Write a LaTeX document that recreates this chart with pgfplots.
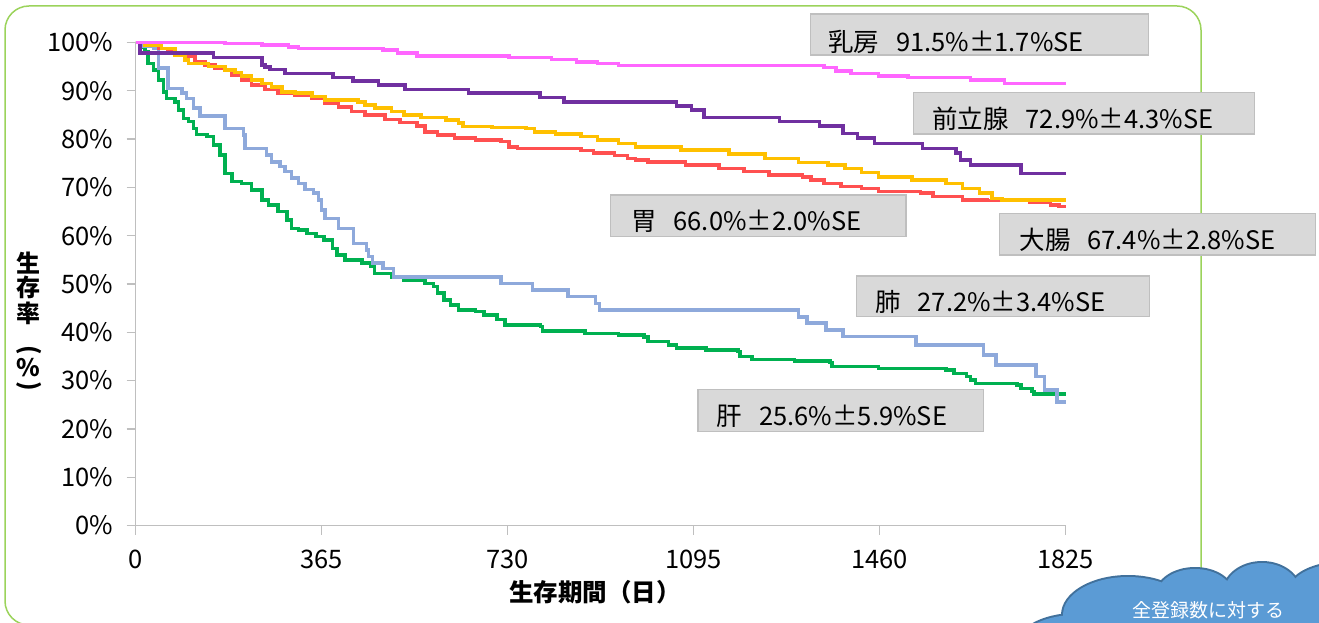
\documentclass[border=0pt]{standalone}
\usepackage{fontspec}
\setmainfont{Noto Sans CJK JP}
\usepackage{pgfplots}
\pgfplotsset{compat=1.18}

\definecolor{pinkc}{HTML}{FF66FF}
\definecolor{purplec}{HTML}{7030A0}
\definecolor{orangec}{HTML}{FFC000}
\definecolor{redc}{HTML}{FF5050}
\definecolor{greenc}{HTML}{00B050}
\definecolor{bluec}{HTML}{8EA9DB}
\definecolor{axisgray}{HTML}{BFBFBF}
\definecolor{boxfill}{HTML}{D9D9D9}
\definecolor{boxdraw}{HTML}{BFBFBF}
\definecolor{bordergreen}{HTML}{9BD35B}
\definecolor{cloudfill}{HTML}{5B9BD5}
\definecolor{cloudedge}{HTML}{41719C}

\newcommand{\lblfont}{\fontsize{25.5}{28}\selectfont}

\begin{document}
\begin{tikzpicture}[x=1pt,y=1pt]
% outer frame
\draw[bordergreen, line width=1.5pt, rounded corners=24pt] (5,-3) rectangle (1201,616);

\begin{axis}[
  at={(135.5pt,96.5pt)}, anchor=south west,
  scale only axis, width=930pt, height=483pt,
  xmin=0, xmax=1825, ymin=0, ymax=100,
  axis x line*=bottom, axis y line*=left,
  axis line style={draw=axisgray, line width=1.5pt},
  xtick={0,365,730,1095,1460,1825},
  ytick={0,10,...,100},
  yticklabel={\pgfmathprintnumber{\tick}\%},
  tick align=outside, major tick length=9pt,
  tick style={draw=axisgray, line width=1.2pt},
  /pgf/number format/assume math mode=true,
  /pgf/number format/1000 sep={},
  tick label style={font=\lblfont},
  yticklabel style={anchor=east, xshift=-10pt},
  xticklabel style={anchor=north, yshift=-12pt},
  clip=false,
  every axis plot/.append style={const plot, line width=3.5pt, line join=miter},
]
% 肺
\addplot[greenc] coordinates {
(0,100)(10,99.0)(19,98.1)(25,95.7)(35,94.3)(45,92.2)(55,89.8)(61,88.4)(78,87.7)
(84,86.0)(94,84.3)(104,83.6)(114,82.2)(120,81.0)(140,80.5)(153,78.8)(166,76.7)
(176,72.9)(189,71.2)(208,70.8)(228,69.5)(248,67.4)(261,66.4)(280,65.0)(297,63.3)
(306,61.5)(320,61.2)(337,60.5)(354,59.8)(370,59.1)(387,57.4)(395,56.0)(411,55.0)
(444,54.3)(461,53.6)(469,52.2)(502,51.5)(527,50.8)(568,50.1)(585,49.5)(593,48.1)
(605,46.7)(618,45.7)(634,44.6)(667,44.3)(684,43.6)(709,42.6)(725,41.5)(795,41.2)
(799,40.3)(882,39.8)(948,39.4)(998,39.0)(1006,38.1)(1046,37.4)(1062,36.7)(1120,36.3)
(1182,36.0)(1186,35.0)(1210,34.4)(1293,34.1)(1363,33.7)(1367,32.9)(1458,32.5)
(1590,32.2)(1606,31.5)(1631,30.8)(1639,30.1)(1648,29.4)(1730,29.1)(1738,28.4)
(1759,27.7)(1763,27.2)(1825,27.2)};
% 肝
\addplot[bluec] coordinates {
(0,100)(15,99.3)(35,98.8)(45,94.7)(64,90.5)(91,89.5)(100,88.4)(114,86.4)(127,84.8)
(176,82.2)(212,80.9)(215,78.1)(257,76.7)(267,75.3)(284,74.3)(293,73.3)(306,71.9)
(320,70.8)(333,69.6)(349,68.8)(359,67.4)(365,65.3)(372,63.6)(398,61.5)(428,58.4)
(453,57.0)(457,55.7)(465,54.3)(486,53.2)(506,51.5)(717,50.1)(779,48.8)(849,47.4)
(903,46.0)(911,44.6)(1301,43.2)(1318,41.9)(1355,40.5)(1388,39.1)(1532,37.4)
(1664,35.3)(1689,33.2)(1767,30.8)(1784,28.1)(1808,25.6)(1825,25.6)};
% 胃
\addplot[redc] coordinates {
(0,100)(19,99.5)(45,98.8)(64,98.1)(78,97.6)(97,97.1)(117,96.0)(136,95.3)(156,94.7)
(176,94.2)(189,93.3)(208,92.2)(228,91.2)(254,90.3)(280,89.5)(313,89.0)(346,88.4)
(372,87.4)(398,86.6)(424,85.7)(450,85.0)(490,84.1)(519,83.4)(552,82.7)(568,81.5)
(593,80.9)(626,80.2)(667,79.8)(717,79.5)(733,78.4)(750,78.1)(874,77.6)(899,77.1)
(940,76.6)(965,76.0)(981,75.7)(1006,75.3)(1079,74.6)(1145,73.9)(1194,73.3)
(1243,72.6)(1309,72.2)(1326,71.5)(1351,70.8)(1384,70.2)(1425,69.8)(1458,69.1)
(1540,68.8)(1565,68.1)(1623,67.4)(1672,67.3)(1755,67.0)(1796,66.4)(1812,66.0)
(1825,66.0)};
% 大腸
\addplot[orangec] coordinates {
(0,100)(19,99.5)(51,98.8)(78,97.4)(97,96.4)(104,95.7)(143,95.0)(176,94.3)(195,93.8)
(208,93.1)(228,92.2)(248,91.5)(267,90.8)(287,89.8)(313,89.5)(346,88.8)(372,88.1)
(437,87.7)(450,87.1)(470,86.4)(502,85.7)(527,85.0)(560,84.5)(609,84.0)(634,83.3)
(643,82.6)(700,82.4)(766,82.2)(783,81.5)(824,81.1)(874,80.5)(907,79.8)(948,79.1)
(981,78.4)(1070,77.7)(1165,76.9)(1235,76.0)(1301,75.2)(1359,74.6)(1392,73.9)
(1425,73.1)(1458,72.2)(1524,71.5)(1590,70.8)(1623,69.8)(1656,68.8)(1681,67.7)
(1700,67.4)(1825,67.4)};
% 前立腺
\addplot[purplec] coordinates {
(0,100)(9,97.8)(153,96.9)(248,95.3)(254,94.9)(264,94.4)(293,93.6)(388,92.8)
(427,92.0)(477,91.2)(529,90.3)(653,89.5)(794,88.6)(841,87.7)(1062,86.9)(1091,86.0)
(1116,84.5)(1264,83.6)(1342,82.7)(1388,81.2)(1417,80.2)(1450,79.1)(1544,78.1)
(1610,77.1)(1619,75.7)(1639,74.6)(1738,72.9)(1825,72.9)};
% 乳房
\addplot[pinkc] coordinates {
(0,100)(176,99.8)(248,99.5)(300,99.1)(320,98.8)(486,98.4)(514,97.8)(552,97.2)
(733,96.9)(816,96.5)(865,96.0)(907,95.7)(948,95.2)(1351,94.8)(1375,94.1)(1404,93.6)
(1458,93.1)(1516,92.8)(1639,92.2)(1705,91.5)(1825,91.5)};
\end{axis}

% axis titles
\node[font=\bfseries\fontsize{24.5}{26}\selectfont] at (595,29.5) {生存期間（日）};
\begin{scope}[every node/.style={font=\bfseries\fontsize{24}{24}\selectfont, inner sep=0pt}]
\node at (28.7,358.7) {生};
\node at (28.7,334.5) {存};
\node at (28.7,308.7) {率};
\node[rotate=-90] at (28.7,272) {(};
\node at (28.7,254) {\%};
\node[rotate=-90] at (28.7,235.3) {)};
\end{scope}

% value boxes
\begin{scope}[every node/.style={font=\lblfont, inner sep=0pt, anchor=west}]
\filldraw[fill=boxfill, draw=boxdraw, line width=1.5pt] (810.5,608) rectangle (1148.4,567);
\node at (828,580.3) {乳房\hspace{17pt}91.5\%±1.7\%SE};
\filldraw[fill=boxfill, draw=boxdraw, line width=1.5pt] (913.5,529.7) rectangle (1254.4,488);
\node at (932,503) {前立腺\hspace{17pt}72.9\%±4.3\%SE};
\filldraw[fill=boxfill, draw=boxdraw, line width=1.5pt] (999.6,408.7) rectangle (1315.7,367);
\node at (1019.4,382) {大腸\hspace{17pt}67.4\%±2.8\%SE};
\filldraw[fill=boxfill, draw=boxdraw, line width=1.5pt] (610.3,427) rectangle (906,385.3);
\node at (631,400.3) {胃\hspace{17pt}66.0\%±2.0\%SE};
\filldraw[fill=boxfill, draw=boxdraw, line width=1.5pt] (856.7,346) rectangle (1149.7,305.3);
\node at (875,320.3) {肺\hspace{17pt}27.2\%±3.4\%SE};
\filldraw[fill=boxfill, draw=boxdraw, line width=1.5pt] (697.8,232.7) rectangle (983.7,190.3);
\node at (716.7,205.3) {肝\hspace{17pt}25.6\%±5.9\%SE};
\end{scope}

% cloud callout (cut by the page edge)
\def\puffs{1128/7/65/38, 1195/27/38/26, 1262/29/38/30, 1345/32/55/27, 1190/-38/150/60, 1075/-28/60/35, 1320/-10/60/40}
\foreach \cx/\cy/\rx/\ry in \puffs
  \draw[cloudedge, line width=4pt] (\cx,\cy) ellipse [x radius=\rx, y radius=\ry];
\foreach \cx/\cy/\rx/\ry in \puffs
  \fill[cloudfill] (\cx,\cy) ellipse [x radius=\rx, y radius=\ry];
\node[white, font=\fontsize{19}{19}\selectfont, inner sep=0pt] at (1208,12) {全登録数に対する};

\pgfresetboundingbox
\useasboundingbox (0,0) rectangle (1319,622);
\end{tikzpicture}
\end{document}
